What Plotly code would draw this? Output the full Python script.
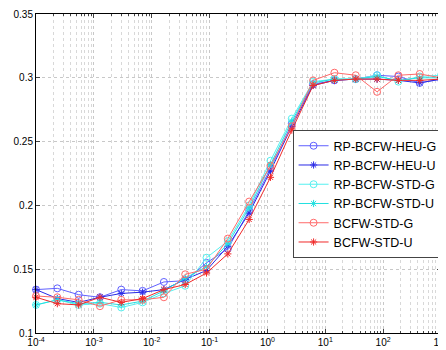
import numpy as np
import plotly.graph_objects as go

# x positions: 20 log-spaced regularisation values from 1e-4 to 1e3
lam = np.logspace(-4, 3, 20)

heu_g = [0.134, 0.135, 0.130, 0.128, 0.134, 0.133, 0.140, 0.141, 0.155, 0.166,
         0.196, 0.229, 0.264, 0.295, 0.298, 0.299, 0.302, 0.301, 0.296, 0.299]
heu_u = [0.134, 0.127, 0.124, 0.128, 0.131, 0.132, 0.134, 0.142, 0.149, 0.168,
         0.194, 0.227, 0.262, 0.294, 0.298, 0.299, 0.299, 0.298, 0.296, 0.299]
std_g = [0.122, 0.126, 0.122, 0.123, 0.120, 0.124, 0.131, 0.137, 0.159, 0.172,
         0.200, 0.235, 0.268, 0.297, 0.299, 0.299, 0.302, 0.297, 0.301, 0.302]
std_u = [0.122, 0.126, 0.123, 0.124, 0.122, 0.125, 0.133, 0.143, 0.152, 0.170,
         0.198, 0.232, 0.266, 0.296, 0.299, 0.299, 0.301, 0.298, 0.300, 0.300]
bcfw_g = [0.129, 0.128, 0.126, 0.121, 0.126, 0.126, 0.128, 0.146, 0.150, 0.174,
          0.203, 0.231, 0.262, 0.298, 0.304, 0.302, 0.289, 0.302, 0.303, 0.300]
bcfw_u = [0.128, 0.123, 0.122, 0.128, 0.124, 0.127, 0.134, 0.138, 0.147, 0.162,
          0.189, 0.222, 0.259, 0.294, 0.298, 0.299, 0.299, 0.298, 0.298, 0.299]

x_exps = [-4, -3, -2, -1, 0, 1, 2, 3]
x_tickvals = [10.0 ** e for e in x_exps]
x_ticktext = ['10<sup>%d</sup>' % e for e in x_exps]
y_tickvals = [0.1, 0.15, 0.2, 0.25, 0.3, 0.35]
y_ticktext = ['0.1', '0.15', '0.2', '0.25', '0.3', '0.35']

series = [
    ('RP-BCFW-HEU-G', heu_g, '#6060ff', 'circle-open', 7),
    ('RP-BCFW-HEU-U', heu_u, '#2a2ae6', 'asterisk-open', 6),
    ('RP-BCFW-STD-G', std_g, '#55f0f0', 'circle-open', 7),
    ('RP-BCFW-STD-U', std_u, '#22e0e0', 'asterisk-open', 6),
    ('BCFW-STD-G', bcfw_g, '#ff6a6a', 'circle-open', 7),
    ('BCFW-STD-U', bcfw_u, '#f02a2a', 'asterisk-open', 6),
]

fig = go.Figure()
for name, vals, col, sym, sz in series:
    fig.add_trace(go.Scatter(
        x=lam, y=vals, name=name, mode='lines+markers',
        line=dict(color=col, width=1),
        marker=dict(symbol=sym, size=sz, color=col, line=dict(width=1, color=col)),
        cliponaxis=False
    ))

grid = dict(showgrid=True, gridcolor='#c8c8c8', griddash='dot', gridwidth=1)

# page body has an 8px margin, so the figure is sized to fit the window
fig.update_layout(
    width=438, height=342,
    margin=dict(l=28, r=4, t=6, b=17),
    paper_bgcolor='white', plot_bgcolor='white',
    font=dict(family='Liberation Sans, Arial, sans-serif', size=10, color='black'),
    showlegend=True,
    legend=dict(x=0.632, y=0.636, xanchor='left', yanchor='top',
                bgcolor='white', bordercolor='#444', borderwidth=1,
                font=dict(size=12.5), tracegroupgap=0, itemwidth=30),
)
fig.update_xaxes(type='log', range=[-4, 3], tickmode='array',
                 tickvals=x_tickvals, ticktext=x_ticktext, ticklabeloverflow='allow',
                 showline=True, linecolor='black', linewidth=1, mirror='ticks',
                 ticks='inside', ticklen=4, zeroline=False, automargin=False,
                 minor=dict(showgrid=True, gridcolor='#d8d8d8', griddash='dot',
                            ticks='inside', ticklen=2, dtick='D1'),
                 **grid)
fig.update_yaxes(range=[0.1, 0.35], tickmode='array',
                 tickvals=y_tickvals, ticktext=y_ticktext,
                 showline=True, linecolor='black', linewidth=1, mirror='ticks',
                 ticks='inside', ticklen=4, zeroline=False, automargin=False,
                 **grid)

fig.write_html("out.html")
